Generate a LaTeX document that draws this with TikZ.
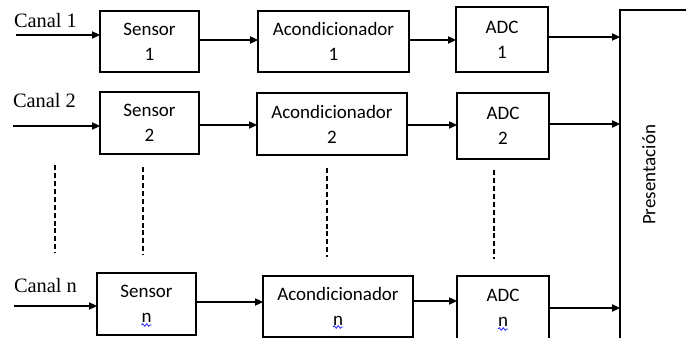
\documentclass[tikz,border=0pt]{standalone}
\usepackage{fontspec}
\setmainfont{Liberation Serif}
\newfontfamily\blockfont{Carlito}
\usetikzlibrary{arrows.meta,calc,decorations.pathmorphing}

\begin{document}
\begin{tikzpicture}[x=0.75pt,y=-0.75pt,
  every node/.style={inner sep=0pt, outer sep=0pt},
  blk/.style 2 args={draw, line width=0.8pt, minimum width=#1*0.75pt,
    minimum height=#2*0.75pt, align=center,
    font=\blockfont\fontsize{14.25}{18.75}\selectfont},
  chan/.style={anchor=base west, font=\fontsize{15.3}{18}\selectfont},
  arr/.style={line width=0.8pt, -{Triangle[length=6pt,width=5.5pt]}},
  guide/.style={line width=0.8pt, dash pattern=on 3.75pt off 2.2pt},
  squig/.style={color=blue!80!white, line width=0.7pt, decorate,
    decoration={snake, amplitude=0.9pt, segment length=3pt}}
]
\useasboundingbox (0,0) rectangle (686,338);
\fill[white] (0,0) rectangle (686,338);
\clip (0,0) rectangle (686,338);

% channel labels
\node[chan] (l1) at (14,28) {Canal 1};
\node[chan] (l2) at (13,108) {Canal 2};
\node[chan] (ln) at (14,293) {Canal n};

% blocks of channel 1
\node[blk={99}{61}] (s1) at (149.5,41.5) {Sensor\\1};
\node[blk={151}{61}] (a1) at (333.5,41.5) {Acondicionador\\1};
\node[blk={92}{65}] (d1) at (502,39.5) {ADC\\1};

% blocks of channel 2
\node[blk={99}{62}] (s2) at (149.5,123) {Sensor\\2};
\node[blk={150}{62}] (a2) at (332,124) {Acondicionador\\2};
\node[blk={92}{66}] (d2) at (503,126) {ADC\\2};

% blocks of channel n
\node[blk={99}{62}] (sn) at (146.5,304) {Sensor\\n};
\node[blk={150}{61}] (an) at (338,306.5) {Acondicionador\\n};
\node[blk={92}{63}] (dn) at (503,307.5) {ADC\\n};

% presentation block (runs past the page edge)
\node[draw, line width=0.8pt, minimum width=90*0.75pt, minimum height=350*0.75pt]
  (pres) at (665,185) {};
\node[rotate=90, font=\blockfont\fontsize{14.25}{18.75}\selectfont]
  (prestext) at (649,175) {Presentación};

% channel inputs
\coordinate (c1) at (16,35);
\coordinate (c2) at (13,126);
\coordinate (cn) at (14,306);
\draw[arr] (c1) -- (c1 -| s1.west);
\draw[arr] (c2) -- (c2 -| s2.west);
\draw[arr] (cn) -- (cn -| sn.west);

% signal chain of channel 1
\draw[arr] ($(s1.east)+(0,-1.5)$) coordinate (t) -- (t -| a1.west);
\draw[arr] ($(a1.east)+(0,-1.5)$) coordinate (t) -- (t -| d1.west);
\draw[arr] ($(d1.east)+(0,-2.5)$) coordinate (t) -- (t -| pres.west);

% signal chain of channel 2
\draw[arr] ($(s2.east)+(0,2)$) coordinate (t) -- (t -| a2.west);
\draw[arr] ($(a2.east)+(0,1)$) coordinate (t) -- (t -| d2.west);
\draw[arr] ($(d2.east)+(0,-2)$) coordinate (t) -- (t -| pres.west);

% signal chain of channel n
\draw[arr] ($(sn.east)+(0,-2)$) coordinate (t) -- (t -| an.west);
\draw[arr] ($(an.east)+(0,-5.5)$) coordinate (t) -- (t -| dn.west);
\draw[arr] ($(dn.east)+(0,0.5)$) coordinate (t) -- (t -| pres.west);

% ellipsis between channel 2 and channel n
\draw[guide] (55,165) -- (55,253);
\draw[guide] (143,167) -- (143,255);
\draw[guide] (327,168) -- (327,257);
\draw[guide] (494,170) -- (494,259);

% wavy marks under the "n" indices
\draw[squig] ($(sn.center)+(-5,21)$) -- ++(10,0);
\draw[squig] ($(an.center)+(-5,20.5)$) -- ++(10,0);
\draw[squig] ($(dn.center)+(-5,21.5)$) -- ++(10,0);
\end{tikzpicture}
\end{document}
